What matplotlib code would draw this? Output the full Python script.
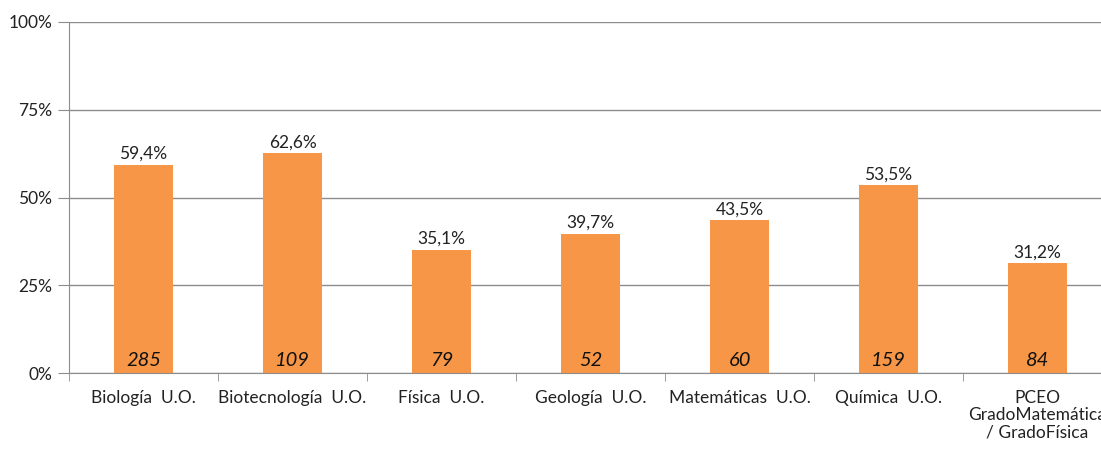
import matplotlib.pyplot as plt
from matplotlib.ticker import FixedLocator, FuncFormatter

# Datos
titulaciones = ["Biología  U.O.", "Biotecnología  U.O.", "Física  U.O.", "Geología  U.O.",
                "Matemáticas  U.O.", "Química  U.O.", "PCEO\nGradoMatemática\n/ GradoFísica"]
porcentajes = [59.4, 62.6, 35.1, 39.7, 43.5, 53.5, 31.2]
alumnos = [285, 109, 79, 52, 60, 159, 84]
yticks = [0, 25, 50, 75, 100]

plt.rcParams['font.family'] = ['Lato', 'DejaVu Sans']

fig = plt.figure(figsize=(11.01, 4.5), dpi=100)
# the plot area runs a little past the right edge, as in the original
ax = fig.add_axes([69 / 1101, 1 - 373 / 450, 1043 / 1101, 351 / 450])

x = list(range(len(titulaciones)))
bars = ax.bar(x, porcentajes, width=0.40, color='#F79646', zorder=3)

for xi, p, n in zip(x, porcentajes, alumnos):
    ax.text(xi, p + 0.8, f"{p:.1f}%".replace('.', ','), ha='center', va='bottom',
            fontsize=12.5, color='#222222')
    ax.text(xi, 1.0, str(n), ha='center', va='bottom', fontsize=14.5,
            style='italic', color='#111111', zorder=4)

ax.set_xlim(-0.5, len(titulaciones) - 0.5)
ax.set_ylim(0, 100)
ax.set_yticks(yticks)
ax.yaxis.set_major_formatter(FuncFormatter(lambda v, pos: f"{v:.0f}%"))
ax.grid(axis='y', color='#8C8C8C', linewidth=1.0, zorder=0)

ax.set_xticks(x)
ax.set_xticklabels(titulaciones, fontsize=12.5, color='#222222', linespacing=1.1)
ax.tick_params(axis='x', which='major', length=0, pad=12)
ax.xaxis.set_minor_locator(FixedLocator([i - 0.5 for i in range(len(titulaciones) + 1)]))
ax.tick_params(axis='x', which='minor', length=6, color='#8C8C8C', direction='out')
ax.tick_params(axis='y', length=8, color='#8C8C8C', labelsize=12.5, labelcolor='#222222', pad=4)

for s in ['top', 'right']:
    ax.spines[s].set_visible(False)
for s in ['left', 'bottom']:
    ax.spines[s].set_color('#8C8C8C')

plt.savefig("out.png", dpi=100)
